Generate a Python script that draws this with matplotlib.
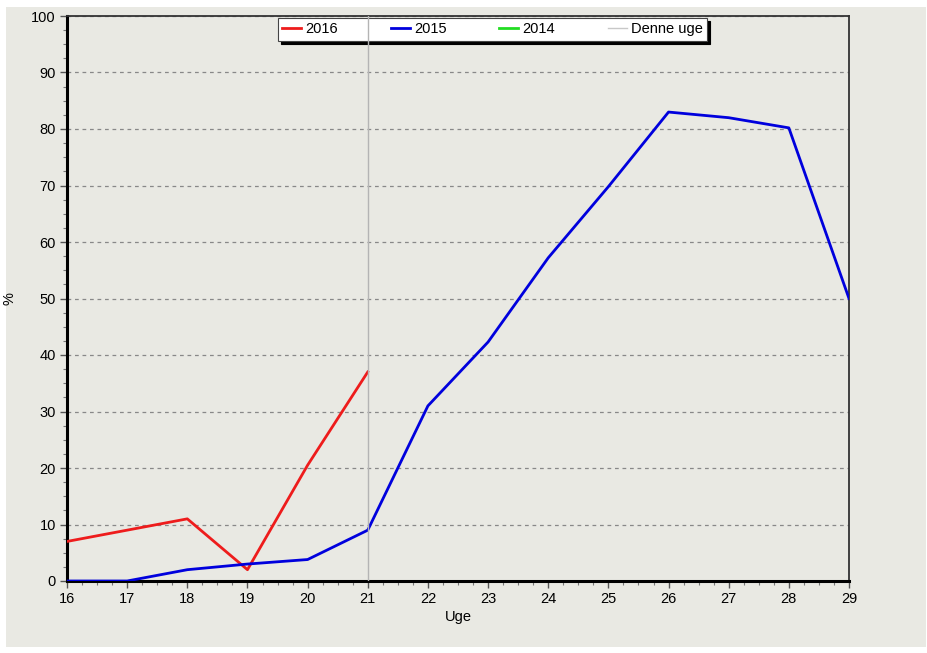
import matplotlib.pyplot as plt
from matplotlib.lines import Line2D
from matplotlib.patches import Rectangle
from matplotlib.ticker import MultipleLocator

plt.rcParams['font.family'] = ['Liberation Sans', 'DejaVu Sans']

# Données
uger = [16, 17, 18, 19, 20, 21, 22, 23, 24, 25, 26, 27, 28, 29]
uger_2016 = [16, 17, 18, 19, 20, 21]
pct_2016 = [7, 9, 11, 2, 20.5, 37]
pct_2015 = [0, 0, 2, 3, 3.8, 9, 31, 42.3, 57.2, 69.8, 83, 82, 80.2, 50]
denne_uge = 21

bg = "#e9e9e3"
fig = plt.figure(figsize=(9.28, 6.53), dpi=100, facecolor="white")
fig.patches.append(Rectangle((6 / 928, 6 / 653), 920 / 928, 640 / 653,
                             transform=fig.transFigure, facecolor=bg,
                             edgecolor="none", zorder=-10))
ax = fig.add_axes([67 / 928, 1 - 581 / 653, (849 - 67) / 928, (581 - 16) / 653])
ax.set_facecolor(bg)

ax.plot(uger_2016, pct_2016, color="#ee1c1c", lw=2, zorder=3)
ax.plot(uger, pct_2015, color="#0000dd", lw=2, zorder=3)
ax.axvline(denne_uge, color="#b4b4b4", lw=1, zorder=6)

ax.set_xlim(16, 29)
ax.set_ylim(0, 100)
ax.xaxis.set_major_locator(MultipleLocator(1))
ax.xaxis.set_minor_locator(MultipleLocator(0.25))
ax.yaxis.set_major_locator(MultipleLocator(10))
ax.yaxis.set_minor_locator(MultipleLocator(2.5))
ax.grid(axis="y", which="major", color="#888888", ls=(0, (3, 3)), lw=0.9)

for side in ["left", "bottom"]:
    ax.spines[side].set_linewidth(2.2)
    ax.spines[side].set_color("black")
for side in ["top", "right"]:
    ax.spines[side].set_linewidth(1.3)
    ax.spines[side].set_color("#333333")

ax.tick_params(which="major", length=5, width=1, color="#555555", labelsize=10.5, pad=3)
ax.tick_params(which="minor", length=3, width=0.8, color="#777777")
ax.set_xlabel("Uge", fontsize=10.5, labelpad=3)
ax.set_ylabel("%", fontsize=10.5)
ax.yaxis.set_label_coords((17 - 67) / 782, 0.5)

handles = [Line2D([0], [0], color="#ee1c1c", lw=2),
           Line2D([0], [0], color="#0000dd", lw=2),
           Line2D([0], [0], color="#22dd22", lw=2),
           Line2D([0], [0], color="#c8c8c8", lw=1)]
labels = ["2016", "2015", "2014", "Denne uge"]
leg = ax.legend(handles, labels, ncol=4, loc="upper left",
                bbox_to_anchor=((278 - 67) / 782, 1 - 2 / 565),
                frameon=True, fancybox=False, shadow={"color": "black", "alpha": 1},
                fontsize=10.5, handlelength=1.3, handletextpad=0.3,
                columnspacing=3.6, borderpad=0.3, borderaxespad=0)
leg.get_frame().set_edgecolor("#444444")
leg.get_frame().set_linewidth(0.8)
leg.get_frame().set_facecolor("white")
leg.set_zorder(5)

plt.savefig("out.png", dpi=100, facecolor=fig.get_facecolor())
